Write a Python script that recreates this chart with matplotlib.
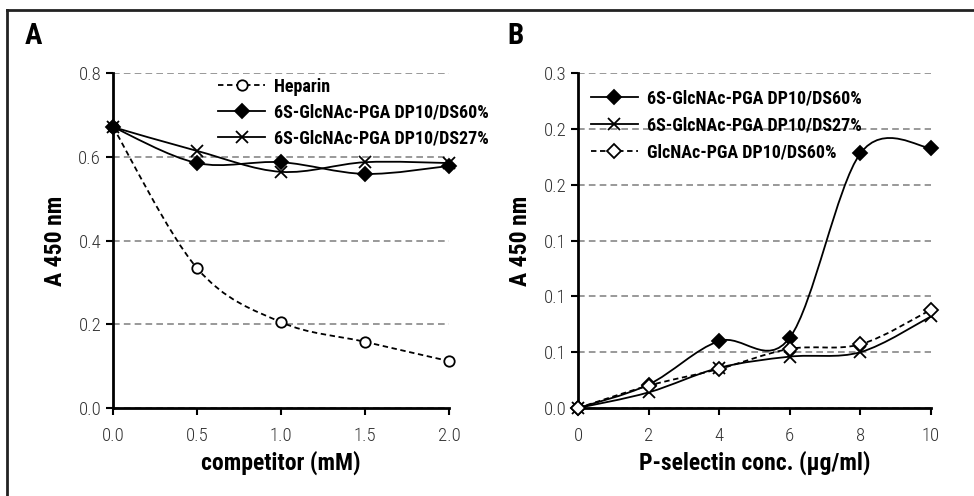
import matplotlib
matplotlib.use('Agg')
import matplotlib.pyplot as plt
from matplotlib import font_manager
from matplotlib.path import Path
from matplotlib.patches import PathPatch
from matplotlib.lines import Line2D
from matplotlib.ticker import FormatStrFormatter

# panel A: competition assay
comp_x = [0.0, 0.5, 1.0, 1.5, 2.0]
heparin = [0.671, 0.334, 0.205, 0.158, 0.112]
a_ds60 = [0.671, 0.585, 0.587, 0.559, 0.578]
a_ds27 = [0.671, 0.614, 0.564, 0.587, 0.585]
a_labels = ['Heparin', '6S-GlcNAc-PGA DP10/DS60%', '6S-GlcNAc-PGA DP10/DS27%']

# panel B: binding vs P-selectin concentration
psel_x = [0, 2, 4, 6, 8, 10]
b_ds60 = [0.0, 0.021, 0.060, 0.063, 0.228, 0.233]
b_ds27 = [0.0, 0.014, 0.036, 0.046, 0.050, 0.082]
b_glc = [0.0, 0.020, 0.035, 0.053, 0.057, 0.088]
b_labels = ['6S-GlcNAc-PGA DP10/DS60%', '6S-GlcNAc-PGA DP10/DS27%', 'GlcNAc-PGA DP10/DS60%']

# pick a narrow font if there is one
names = {f.name for f in font_manager.fontManager.ttflist}
scale = 0.84
if 'Roboto Condensed' in names:
    fam = ['Roboto Condensed', 'DejaVu Sans']
    scale = 1.0
elif 'Liberation Sans Narrow' in names:
    fam = ['Liberation Sans Narrow', 'DejaVu Sans']
    scale = 1.0
else:
    fam = ['DejaVu Sans']

plt.rcParams['font.family'] = fam
plt.rcParams['font.weight'] = 'light'


def fp(size, weight='bold'):
    return {'family': fam, 'weight': weight, 'size': size * scale}


def smooth_path(x, y):
    # Excel-style smoothed line: Catmull-Rom as cubic Bezier segments
    pts = list(zip(x, y))
    n = len(pts)
    verts = [pts[0]]
    codes = [Path.MOVETO]
    for i in range(n - 1):
        p0 = pts[max(i - 1, 0)]
        p1 = pts[i]
        p2 = pts[i + 1]
        p3 = pts[min(i + 2, n - 1)]
        c1 = (p1[0] + (p2[0] - p0[0]) / 6, p1[1] + (p2[1] - p0[1]) / 6)
        c2 = (p2[0] - (p3[0] - p1[0]) / 6, p2[1] - (p3[1] - p1[1]) / 6)
        verts += [c1, c2, p2]
        codes += [Path.CURVE4] * 3
    return Path(verts, codes)


def series(ax, x, y, ls, marker, mfc, ms):
    ax.add_patch(PathPatch(smooth_path(x, y), fill=False, ec='black', lw=1.3,
                           ls=ls, zorder=3, clip_on=False))
    ax.plot(x, y, ls='none', marker=marker, mfc=mfc, mec='black', mew=1.3,
            ms=ms, zorder=4, clip_on=False)
    return Line2D([], [], color='black', ls=ls, lw=1.3, marker=marker,
                  mfc=mfc, mec='black', mew=1.3, ms=ms)


def style(ax):
    for s in ['top', 'right']:
        ax.spines[s].set_visible(False)
    for s in ['left', 'bottom']:
        ax.spines[s].set_linewidth(2)
    ax.tick_params(direction='out', length=5, width=1.5, labelcolor='#333333',
                   labelsize=13.5 * scale)
    ax.yaxis.grid(True, ls=(0, (4, 2.5)), color='#888888', lw=1.2)
    ax.set_axisbelow(True)
    ax.set_ylabel('A 450 nm', fontdict=fp(17), labelpad=8)


fig = plt.figure(figsize=(9.74, 4.96), dpi=100)

# frame lines
fig.add_artist(Line2D([7 / 974, 1], [1 - 10 / 496, 1 - 10 / 496], color='#222222', lw=2))
fig.add_artist(Line2D([7 / 974, 7 / 974], [0, 1 - 10 / 496], color='#222222', lw=2))

# panel A
axA = fig.add_axes([0.116, 0.1774, 0.345, 0.6754])
hA = [series(axA, comp_x, heparin, (0, (3, 2)), 'o', 'white', 7.5),
      series(axA, comp_x, a_ds60, '-', 'D', 'black', 7),
      series(axA, comp_x, a_ds27, '-', 'x', 'none', 9)]
axA.set_xlim(0, 2)
axA.set_ylim(0, 0.8)
axA.set_xticks(comp_x)
axA.set_yticks([0, 0.2, 0.4, 0.6, 0.8])
axA.xaxis.set_major_formatter(FormatStrFormatter('%.1f'))
axA.yaxis.set_major_formatter(FormatStrFormatter('%.1f'))
style(axA)
axA.tick_params(axis='x', pad=9)
axA.set_xlabel('competitor (mM)', fontdict=fp(17), labelpad=4)
axA.legend(hA, a_labels, loc='upper left', bbox_to_anchor=(0.265, 1.035),
           frameon=False, handlelength=2.6, handletextpad=0.5, labelspacing=0.45,
           prop=fp(13))

# panel B
axB = fig.add_axes([0.5934, 0.1774, 0.3624, 0.6754])
hB = [series(axB, psel_x, b_ds60, '-', 'D', 'black', 7),
      series(axB, psel_x, b_ds27, '-', 'x', 'none', 9),
      series(axB, psel_x, b_glc, (0, (3, 2)), 'D', 'white', 7)]
axB.set_xlim(0, 10)
axB.set_ylim(0, 0.3)
axB.set_xticks(psel_x)
axB.set_yticks([0, 0.05, 0.1, 0.15, 0.2, 0.25, 0.3])
axB.yaxis.set_major_formatter(FormatStrFormatter('%.1f'))
style(axB)
axB.tick_params(axis='x', pad=9)
axB.set_xlabel('P-selectin conc. (\u00b5g/ml)', fontdict=fp(17), labelpad=4)
axB.legend(hB, b_labels, loc='upper left', bbox_to_anchor=(-0.01, 1.0),
           frameon=False, handlelength=2.6, handletextpad=0.5, labelspacing=0.5,
           prop=fp(13))

fig.text(25 / 974, 1 - 36 / 496, 'A', fontdict=fp(21), va='center')
fig.text(507 / 974, 1 - 36 / 496, 'B', fontdict=fp(21), va='center')

fig.savefig('out.png', dpi=100)
